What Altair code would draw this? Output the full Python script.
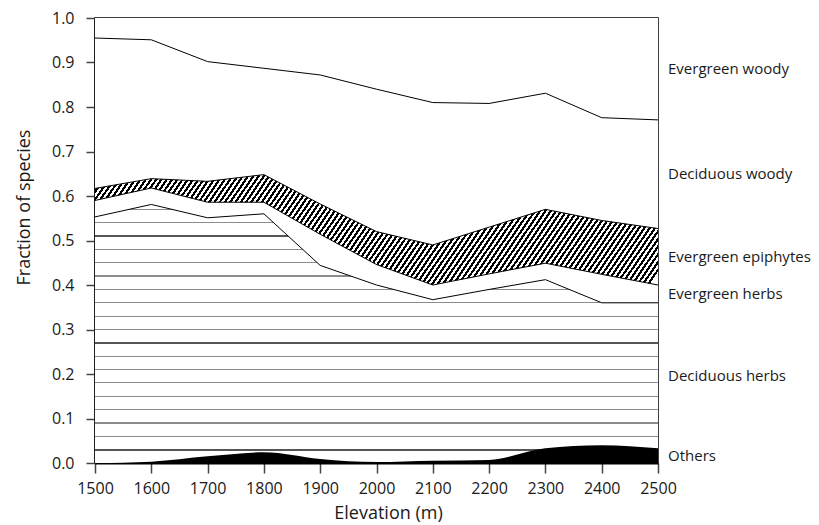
import altair as alt
import pandas as pd
import numpy as np

# ---------------- data ----------------
elevation = [1500, 1600, 1700, 1800, 1900, 2000, 2100, 2200, 2300, 2400, 2500]

others          = [0.000, 0.003, 0.015, 0.024, 0.009, 0.002, 0.005, 0.007, 0.033, 0.040, 0.033]
deciduous_herbs = [0.553, 0.578, 0.536, 0.536, 0.435, 0.398, 0.362, 0.383, 0.379, 0.320, 0.327]
evergreen_herbs = [0.037, 0.037, 0.035, 0.026, 0.070, 0.046, 0.033, 0.035, 0.037, 0.064, 0.040]
evergreen_epi   = [0.027, 0.021, 0.047, 0.062, 0.068, 0.074, 0.090, 0.105, 0.121, 0.121, 0.127]
deciduous_woody = [0.338, 0.312, 0.269, 0.239, 0.290, 0.320, 0.320, 0.278, 0.261, 0.231, 0.244]
evergreen_woody = [0.045, 0.049, 0.098, 0.113, 0.128, 0.160, 0.190, 0.192, 0.169, 0.224, 0.229]

categories = ["Others", "Deciduous herbs", "Evergreen herbs",
              "Evergreen epiphytes", "Deciduous woody", "Evergreen woody"]
series = [others, deciduous_herbs, evergreen_herbs,
          evergreen_epi, deciduous_woody, evergreen_woody]

x_ticks = elevation
y_ticks = [0.0, 0.1, 0.2, 0.3, 0.4, 0.5, 0.6, 0.7, 0.8, 0.9, 1.0]

# ---------------- build table ----------------
cum = np.cumsum(np.array(series, dtype=float), axis=0)
rows = []
for ci, cat in enumerate(categories):
    for j, e in enumerate(elevation):
        rows.append({"elev": e, "cat": cat, "top": float(cum[ci, j]), "base": 0.0})
df = pd.DataFrame(rows)

lab_rows = []
for ci, cat in enumerate(categories):
    lower = float(cum[ci - 1, -1]) if ci > 0 else 0.0
    upper = float(cum[ci, -1])
    lab_rows.append({"elev": elevation[-1], "cat": cat, "top": (lower + upper) / 2})
lab_df = pd.DataFrame(lab_rows)

PLOT_W, PLOT_H = 563, 445

# ---------------- texture gradients ----------------
def wave_gradient(ymax):
    px_per_unit = ymax * PLOT_H
    stops = [alt.GradientStop(color="white", offset=0)]
    k_vals = []
    k = 0
    v = 0.03
    while v < ymax:
        k_vals.append((v, k))
        k += 1
        v = 0.03 * (k + 1)
    for v, k in sorted(k_vals, key=lambda t: -t[0]):
        thick = (k % 8 == 0)
        t = 2.0 if thick else 1.2
        col = "#555555" if thick else "#8c8c8c"
        o = (ymax - v) / ymax
        h = (t / 2) / px_per_unit
        a, b = max(o - h, 0), min(o + h, 1)
        stops += [alt.GradientStop(color="white", offset=a),
                  alt.GradientStop(color=col, offset=a),
                  alt.GradientStop(color=col, offset=b),
                  alt.GradientStop(color="white", offset=b)]
    stops.append(alt.GradientStop(color="white", offset=1))
    return alt.LinearGradient(gradient="linear", stops=stops, x1=0, y1=0, x2=0, y2=1)


def stripe_gradient(n, frac):
    stops = []
    for i in range(n):
        s = i / n
        e = s + frac / n
        stops += [alt.GradientStop(color="black", offset=s),
                  alt.GradientStop(color="black", offset=e),
                  alt.GradientStop(color="white", offset=e),
                  alt.GradientStop(color="white", offset=(i + 1) / n)]
    return alt.LinearGradient(gradient="linear", stops=stops, x1=0, y1=0, x2=1, y2=0.35)


herbs_max = float(cum[1].max())

x_axis = alt.Axis(title="Elevation (m)", values=x_ticks, format="d", grid=False,
                  labelFontSize=16, titleFontSize=18, titleFontWeight="normal",
                  tickSize=10, tickWidth=1.5, tickColor="#444444",
                  domainColor="black", domainWidth=2, labelPadding=7,
                  labelFlush=False, labelOverlap=False,
                  titleX=293, titleY=55, titleBaseline="alphabetic",
                  labelColor="#1a1a1a", titleColor="#1a1a1a")
y_axis = alt.Axis(title="Fraction of species", values=y_ticks, format=".1f", grid=False,
                  labelFontSize=16, titleFontSize=18, titleFontWeight="normal",
                  tickSize=9, tickWidth=1.5, tickColor="#444444",
                  domainColor="black", domainWidth=2, labelPadding=12,
                  labelOverlap=False,
                  titleX=-66, titleY=189, titleBaseline="alphabetic",
                  labelColor="#1a1a1a", titleColor="#1a1a1a")

xs = alt.Scale(domain=[1500, 2500], nice=False, zero=False)
ys = alt.Scale(domain=[0, 1], nice=False)

X = alt.X("elev:Q", scale=xs, axis=x_axis)
Y = alt.Y("top:Q", scale=ys, axis=y_axis)

base = alt.Chart(df)


def area(cat, fill, interp="linear"):
    return base.transform_filter(alt.datum.cat == cat).mark_area(
        fill=fill, interpolate=interp, opacity=1
    ).encode(x=X, y=Y, y2=alt.Y2("base:Q"))


def line(cat):
    return base.transform_filter(alt.datum.cat == cat).mark_line(
        color="black", strokeWidth=1
    ).encode(x=X, y=Y)


layers = [
    area("Evergreen woody", "white"),
    area("Deciduous woody", "white"),
    area("Evergreen epiphytes", stripe_gradient(120, 0.5)),
    area("Evergreen herbs", "white"),
    area("Deciduous herbs", wave_gradient(herbs_max)),
    area("Others", "black", interp="monotone"),
    line("Deciduous woody"),
    line("Evergreen epiphytes"),
    line("Evergreen herbs"),
    line("Deciduous herbs"),
]

labels = alt.Chart(lab_df).mark_text(
    align="left", baseline="middle", dx=10, fontSize=15, color="#1a1a1a",
    font="Open Sans"
).encode(x=X, y=Y, text="cat:N")

chart = alt.layer(*layers, labels).properties(
    width=PLOT_W, height=PLOT_H,
    autosize=alt.AutoSizeParams(type="none"),
    padding={"left": 95, "top": 18, "right": 161, "bottom": 62},
).configure(
    font="Open Sans", background="white"
).configure_view(
    stroke="black", strokeWidth=1.5
)

chart.save("out.html", embed_options={"renderer": "svg", "actions": False})
